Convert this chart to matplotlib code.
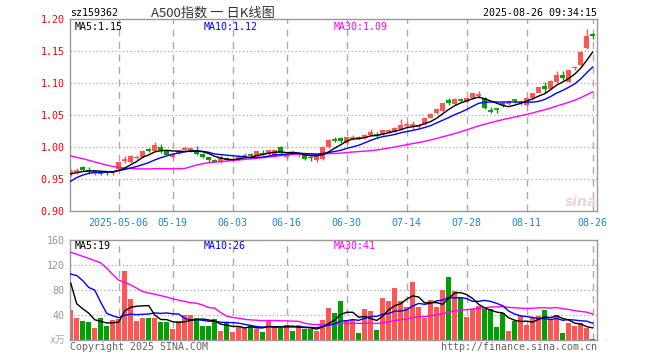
import numpy as np
import pandas as pd
import matplotlib
matplotlib.use("Agg")
import matplotlib.pyplot as plt

# ---- data ----
holidays = ["2025-05-01", "2025-05-02", "2025-05-05", "2025-06-02"]
label_dates = ["2025-05-06", "2025-05-19", "2025-06-03", "2025-06-16", "2025-06-30",
               "2025-07-14", "2025-07-28", "2025-08-11", "2025-08-26"]

opens = [0.958, 0.961, 0.968, 0.964, 0.960, 0.961, 0.961, 0.959, 0.966, 0.978,
         0.977, 0.983, 0.985, 0.997, 0.994, 1.000, 0.994, 0.985, 0.991, 0.995,
         0.994, 0.995, 0.989, 0.984, 0.980, 0.977, 0.983, 0.978, 0.981, 0.984,
         0.988, 0.986, 0.991, 0.989, 0.986, 1.000, 0.984, 0.992, 0.987, 0.988,
         0.985, 0.980, 0.981, 1.000, 1.012, 1.014, 1.007, 1.013, 1.015, 1.014,
         1.018, 1.019, 1.020, 1.023, 1.024, 1.028, 1.033, 1.033, 1.031, 1.036,
         1.046, 1.053, 1.056, 1.074, 1.067, 1.074, 1.070, 1.076, 1.080, 1.077,
         1.058, 1.060, 1.068, 1.067, 1.074, 1.069, 1.066, 1.076, 1.085, 1.096,
         1.091, 1.101, 1.113, 1.102, 1.123, 1.128, 1.154, 1.177]
highs = [0.966, 0.967, 0.970, 0.968, 0.964, 0.962, 0.962, 0.963, 0.977, 0.986,
         0.988, 0.987, 0.995, 0.998, 1.008, 1.004, 0.995, 0.991, 0.996, 1.001,
         0.999, 1.001, 0.990, 0.985, 0.981, 0.987, 0.984, 0.983, 0.988, 0.990,
         0.991, 0.994, 0.995, 0.996, 0.996, 1.001, 0.989, 0.994, 0.991, 0.989,
         0.986, 0.987, 1.001, 1.012, 1.016, 1.016, 1.016, 1.018, 1.017, 1.020,
         1.028, 1.023, 1.027, 1.028, 1.031, 1.044, 1.039, 1.040, 1.036, 1.046,
         1.053, 1.061, 1.069, 1.076, 1.076, 1.076, 1.078, 1.085, 1.088, 1.078,
         1.062, 1.061, 1.070, 1.074, 1.075, 1.073, 1.078, 1.085, 1.094, 1.101,
         1.104, 1.118, 1.118, 1.121, 1.127, 1.150, 1.185, 1.178]
lows = [0.955, 0.958, 0.962, 0.958, 0.957, 0.957, 0.957, 0.957, 0.964, 0.975,
        0.975, 0.981, 0.984, 0.992, 0.993, 0.991, 0.987, 0.983, 0.989, 0.993,
        0.992, 0.987, 0.983, 0.977, 0.976, 0.975, 0.978, 0.977, 0.980, 0.983,
        0.985, 0.985, 0.987, 0.988, 0.984, 0.989, 0.982, 0.989, 0.985, 0.979,
        0.978, 0.977, 0.980, 0.999, 1.008, 1.006, 1.005, 1.012, 1.012, 1.012,
        1.017, 1.015, 1.019, 1.022, 1.023, 1.027, 1.029, 1.028, 1.029, 1.034,
        1.045, 1.051, 1.055, 1.066, 1.065, 1.070, 1.068, 1.075, 1.076, 1.060,
        1.053, 1.053, 1.062, 1.066, 1.068, 1.065, 1.064, 1.075, 1.084, 1.084,
        1.090, 1.100, 1.104, 1.101, 1.120, 1.127, 1.153, 1.168]
closes = [0.963, 0.962, 0.964, 0.963, 0.962, 0.960, 0.959, 0.961, 0.976, 0.979,
          0.986, 0.985, 0.994, 0.994, 1.003, 0.995, 0.988, 0.989, 0.993, 0.999,
          0.998, 0.989, 0.984, 0.979, 0.977, 0.985, 0.979, 0.981, 0.984, 0.988,
          0.987, 0.993, 0.989, 0.995, 0.995, 0.990, 0.987, 0.991, 0.989, 0.982,
          0.983, 0.986, 1.000, 1.011, 1.011, 1.009, 1.015, 1.016, 1.014, 1.019,
          1.023, 1.018, 1.026, 1.026, 1.030, 1.035, 1.034, 1.034, 1.034, 1.045,
          1.052, 1.060, 1.068, 1.068, 1.075, 1.073, 1.077, 1.084, 1.081, 1.061,
          1.057, 1.059, 1.067, 1.071, 1.073, 1.071, 1.077, 1.084, 1.093, 1.091,
          1.103, 1.113, 1.108, 1.120, 1.125, 1.149, 1.174, 1.174]
volumes = [48, 36, 30, 29, 19, 36, 22, 32, 33, 110,
           65, 30, 35, 35, 35, 29, 29, 18, 30, 40,
           40, 36, 22, 22, 33, 14, 27, 13, 22, 21,
           23, 18, 13, 32, 21, 20, 24, 14, 24, 18,
           17, 14, 32, 52, 44, 62, 32, 32, 12, 50,
           46, 16, 67, 62, 83, 62, 53, 93, 53, 36,
           64, 53, 80, 101, 78, 67, 37, 49, 54, 50,
           49, 21, 43, 15, 30, 39, 24, 35, 38, 48,
           34, 40, 12, 27, 22, 27, 19, 2]

# earlier sessions (before the window), estimated from where the MA lines start
hist_close = [1.025, 1.030, 1.035, 1.040, 1.035, 1.030, 1.028, 1.022,
              1.010, 1.005, 1.000, 0.998, 0.995, 0.992, 0.990, 0.995, 0.993, 0.990, 0.987,
              0.915, 0.905, 0.925, 0.935, 0.950, 0.960, 0.952, 0.956, 0.958, 0.961]
hist_vol = [120, 135, 125, 130, 140, 280, 330, 310, 210, 195, 185, 200,
            100, 95, 98, 92, 105, 95, 100, 105, 60, 110, 140, 60, 230, 201, 70, 64, 72]

# ---- derived ----
days = pd.bdate_range("2025-04-21", "2025-08-26")
days = days[~days.isin(pd.to_datetime(holidays))]
x = np.arange(len(days))
o, h, l, c = map(np.array, (opens, highs, lows, closes))
v = np.array(volumes, dtype=float)
n = len(c)

cs = pd.Series(list(hist_close) + list(closes))
vs = pd.Series(list(hist_vol) + list(volumes), dtype=float)
ma = {k: cs.rolling(k).mean().values[-n:] for k in (5, 10, 30)}
vma = {k: vs.rolling(k).mean().values[-n:] for k in (5, 10, 30)}

RED, GREEN = "#ff5555", "#00a000"
cols = np.where(c >= o, RED, GREEN)
ma_cols = {5: "black", 10: "#0000ff", 30: "#ff00ff"}
GRID = "#aaaaaa"
MONO = ["DejaVu Sans Mono", "Noto Sans CJK SC"]
CJK = ["Noto Sans CJK SC", "DejaVu Sans"]
plt.rcParams["font.family"] = MONO

W, H = 660, 360
fig = plt.figure(figsize=(6.6, 3.6), dpi=100)
ax = fig.add_axes([70 / W, 1 - 211 / H, 527 / W, 192 / H])
axv = fig.add_axes([70 / W, 1 - 340 / H, 527 / W, 100 / H])

label_pos = [days.get_loc(pd.Timestamp(d)) for d in label_dates]
label_txt = [label_dates[0]] + [d[5:] for d in label_dates[1:]]

for a in (ax, axv):
    for s in a.spines.values():
        s.set_color("#999999")
        s.set_linewidth(1)
    for p in label_pos:
        a.axvline(p, color=GRID, ls=(0, (5, 4)), lw=1, zorder=0)
    a.set_xlim(-0.12, n - 1 + 0.72)
    a.tick_params(length=0, labelsize=7.2)

# price panel
for yv in [0.95, 1.00, 1.05, 1.10, 1.15]:
    ax.axhline(yv, color=GRID, ls=(0, (1, 2)), lw=0.9, zorder=0)
ax.vlines(x, l, h, colors=cols, lw=1, zorder=2)
body = np.abs(c - o)
ax.bar(x, body, bottom=np.minimum(o, c), width=0.75, color=cols, lw=0, zorder=3)
doji = body < 0.002
ax.hlines(c[doji], x[doji] - 0.4, x[doji] + 0.4, colors=cols[doji], lw=1.2, zorder=3)
for k in (30, 10, 5):
    ax.plot(x, ma[k], color=ma_cols[k], lw=1, zorder=4)
ax.set_ylim(0.90, 1.20)
yt = [0.90, 0.95, 1.00, 1.05, 1.10, 1.15, 1.20]
ax.set_yticks(yt, ["%.2f" % t for t in yt])
ax.tick_params(axis="y", labelcolor="#ff0000", pad=4)
ax.set_xticks(label_pos, label_txt)
ax.tick_params(axis="x", labelcolor="#1a8ad4", pad=5)

# volume panel
for yv in [40, 80, 120]:
    axv.axhline(yv, color=GRID, ls=(0, (1, 2)), lw=0.9, zorder=0)
axv.bar(x, v, width=0.8, color=cols, lw=0, zorder=2)
for k in (30, 10, 5):
    axv.plot(x, vma[k], color=ma_cols[k], lw=1, zorder=4)
axv.set_ylim(0, 160)
axv.set_yticks([40, 80, 120, 160])
axv.tick_params(axis="y", labelcolor="#999999", pad=4)
axv.set_xticks([])


def put(px, py, s, size=7.2, **kw):
    fig.text(px / W, 1 - py / H, s, va="center", fontsize=size, **kw)


put(70, 13, "sz159362", color="black")
put(213, 13, "A500指数 一 日K线图", ha="center", color="#333333", family=CJK, size=9.5)
put(597, 13, "2025-08-26 09:34:15", ha="right", color="black")
put(75, 27, "MA5:1.15", color="black")
put(204, 27, "MA10:1.12", color="#0000ff")
put(334, 27, "MA30:1.09", color="#ff00ff")
put(75, 246, "MA5:19", color="black")
put(204, 246, "MA10:26", color="#0000ff")
put(334, 246, "MA30:41", color="#ff00ff")
put(66, 340, "x万", ha="right", color="#aaaaaa", family=MONO)
put(70, 347, "Copyright 2025 SINA.COM", color="#666666")
put(597, 347, "http://finance.sina.com.cn", ha="right", color="#666666")
put(581, 202, "sina", ha="center", color="#f0d4d4", family="DejaVu Sans",
    size=10, fontweight="bold", style="italic")

fig.savefig("out.png", dpi=100)
